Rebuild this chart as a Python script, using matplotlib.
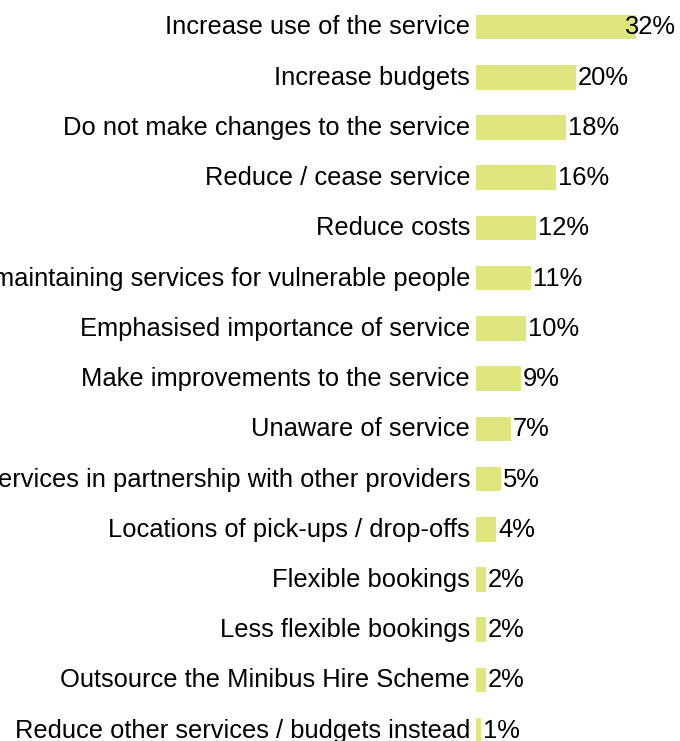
import matplotlib
matplotlib.use("Agg")
import matplotlib.pyplot as plt
from matplotlib.transforms import ScaledTranslation

plt.rcParams['font.family'] = ['Liberation Sans', 'DejaVu Sans']

# Share of comments by theme (%)
themes = [
    "Increase use of the service",
    "Increase budgets",
    "Do not make changes to the service",
    "Reduce / cease service",
    "Reduce costs",
    "maintaining services for vulnerable people",
    "Emphasised importance of service",
    "Make improvements to the service",
    "Unaware of service",
    "ervices in partnership with other providers",
    "Locations of pick-ups / drop-offs",
    "Flexible bookings",
    "Less flexible bookings",
    "Outsource the Minibus Hire Scheme",
    "Reduce other services / budgets instead",
]
shares = [32, 20, 18, 16, 12, 11, 10, 9, 7, 5, 4, 2, 2, 2, 1]

W, H = 680, 741
fig = plt.figure(figsize=(W / 100, H / 100), dpi=100)
ax = fig.add_axes([476 / W, 0, 204 / W, 1])

bar_col = "#DFE67E"
fs = 18.4
pos = list(range(len(themes)))
ax.barh(pos, shares, height=0.49, color=bar_col)

xmax = 204 / 5.0          # 5 px per percentage point
row = 50.23               # px per row
ax.set_xlim(0, xmax)
ax.set_ylim((H - 27) / row, -27 / row)

# text sits a touch above the bar centres
lift = ScaledTranslation(0, 2 / 100, fig.dpi_scale_trans)

ax.set_yticks(pos)
ax.set_yticklabels(themes, fontsize=fs)
ax.tick_params(axis='y', length=0, pad=4.3)
for lbl in ax.get_yticklabels():
    lbl.set_transform(lbl.get_transform() + lift)
ax.set_xticks([])
for s in ax.spines.values():
    s.set_visible(False)

# value labels; keep the longest one inside the plot area
lab_w = 10.2
for y, v in zip(pos, shares):
    txt = f"{v}%"
    if v + 0.4 + lab_w > xmax:
        t = ax.text(xmax - 1, y, txt, ha='right', va='center_baseline', fontsize=fs)
    else:
        t = ax.text(v + 0.4, y, txt, ha='left', va='center_baseline', fontsize=fs)
    t.set_transform(ax.transData + lift)

fig.savefig("out.png", dpi=100)
